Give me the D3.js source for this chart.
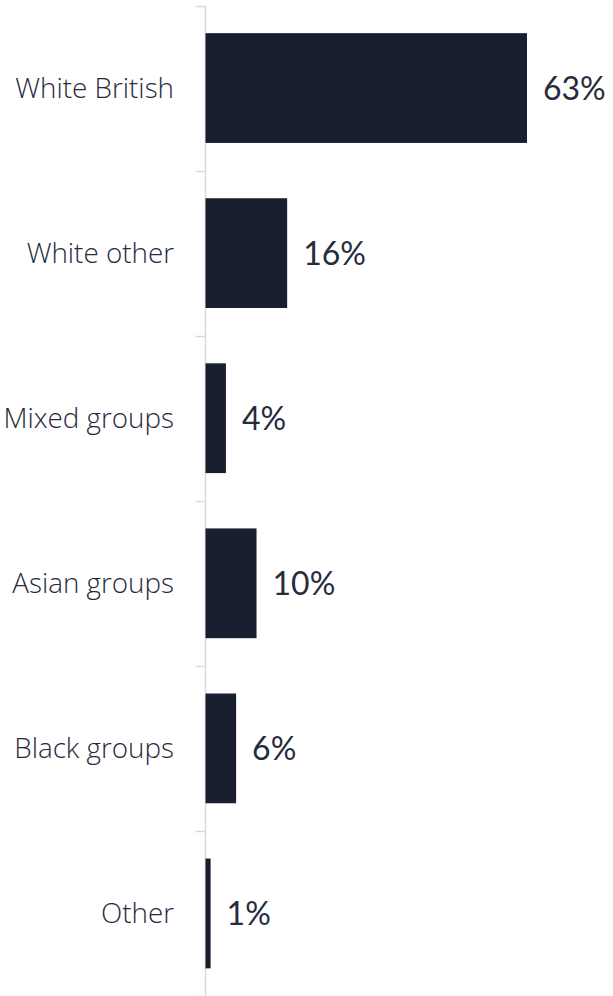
<!DOCTYPE html>
<html>
<head>
<meta charset="utf-8">
<script src="https://cdn.jsdelivr.net/npm/d3@7"></script>
<style>
  html, body { margin: 0; padding: 0; background: #fff; }
  svg { display: block; }
</style>
</head>
<body>
<svg id="chart" width="613" height="996"></svg>
<script>
// Share of respondents by ethnic group
const categories = ["White British", "White other", "Mixed groups", "Asian groups", "Black groups", "Other"];
const values = [63, 16, 4, 10, 6, 1];
const valueLabels = ["63%", "16%", "4%", "10%", "6%", "1%"];

const svg = d3.select("#chart");
const axisX = 205.5;

const x = d3.scaleLinear().domain([0, 63]).range([axisX, 527]);
const y = d3.scaleBand().domain(categories).range([5.5, 996]).paddingInner(0.335).paddingOuter(0.1675);

const barColor = "#1a1f30";
const textColor = "#262b3e";

// tick marks on band boundaries
const bw = y.step();
const bounds = d3.range(categories.length + 1).map(i => 5.5 + i * bw);
svg.selectAll("line.tick").data(bounds).join("line")
  .attr("class", "tick")
  .attr("x1", axisX - 10).attr("x2", axisX)
  .attr("y1", d => Math.round(d) + 0.5).attr("y2", d => Math.round(d) + 0.5)
  .attr("stroke", "#d9d9d9").attr("stroke-width", 1.5);

svg.append("line")
  .attr("x1", axisX).attr("x2", axisX)
  .attr("y1", 5.5).attr("y2", 996)
  .attr("stroke", "#d9d9d9").attr("stroke-width", 1.5);

svg.selectAll("rect.bar").data(categories).join("rect")
  .attr("class", "bar")
  .attr("x", axisX)
  .attr("y", d => y(d))
  .attr("width", (d, i) => x(values[i]) - axisX)
  .attr("height", y.bandwidth())
  .attr("fill", barColor);

svg.selectAll("text.cat").data(categories).join("text")
  .attr("class", "cat")
  .attr("x", 174)
  .attr("y", d => y(d) + y.bandwidth() / 2)
  .attr("dy", "0.35em")
  .attr("text-anchor", "end")
  .attr("font-family", "'Open Sans', sans-serif")
  .attr("font-weight", 300)
  .attr("font-size", 27.8)
  .attr("fill", textColor)
  .text(d => d);

svg.selectAll("text.val").data(categories).join("text")
  .attr("class", "val")
  .attr("x", (d, i) => x(values[i]) + 16)
  .attr("y", d => y(d) + y.bandwidth() / 2)
  .attr("dy", "0.36em")
  .attr("font-family", "Lato, sans-serif")
  .attr("font-size", 32)
  .attr("fill", textColor)
  .text((d, i) => valueLabels[i]);
</script>
</body>
</html>
